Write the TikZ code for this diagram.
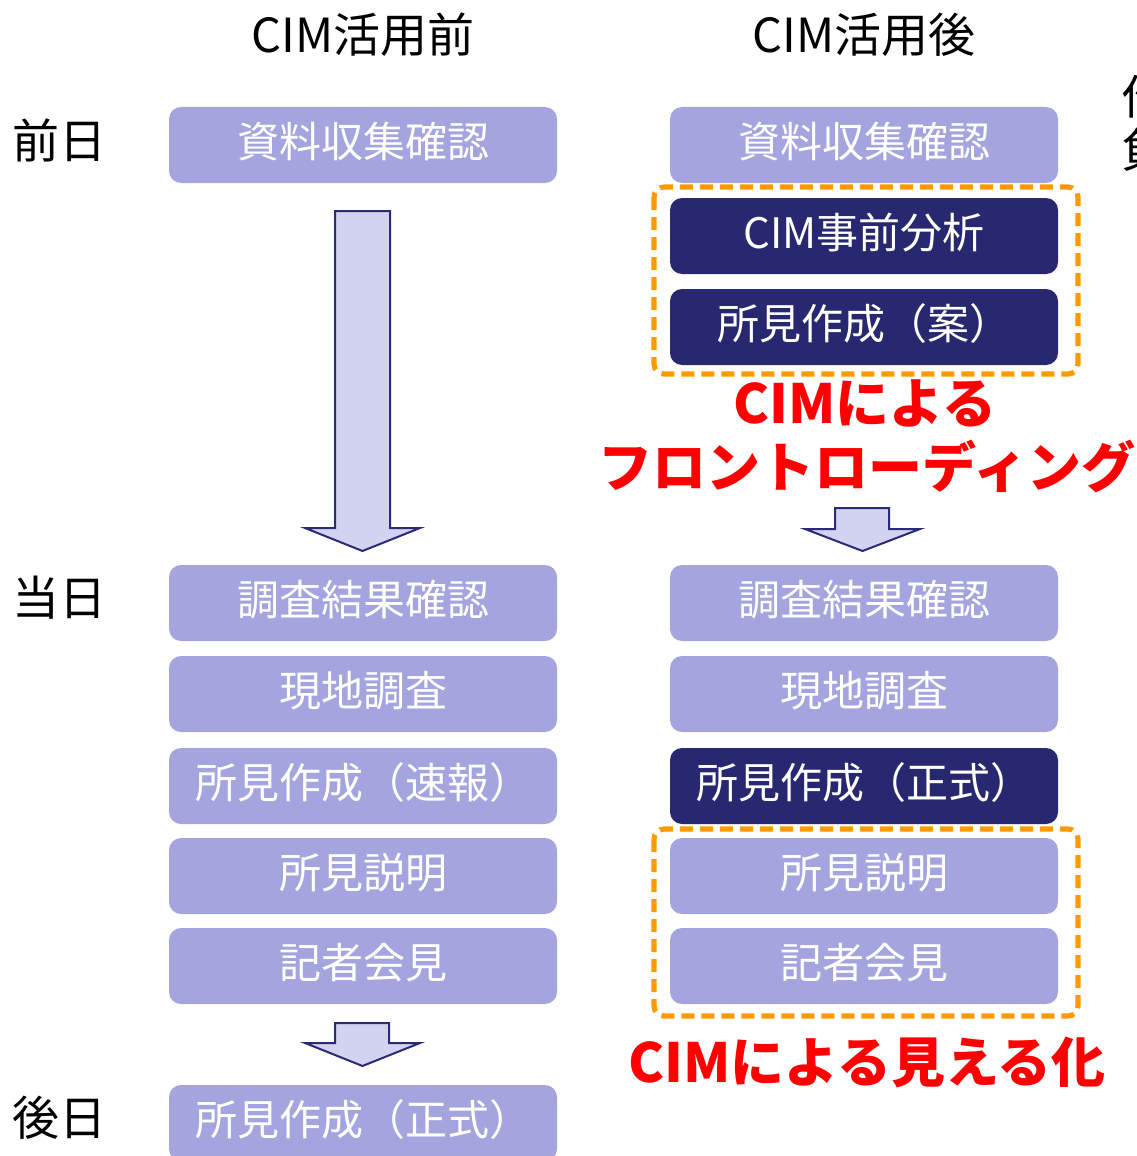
\documentclass[tikz,border=0pt]{standalone}
\usepackage{fontspec}
\setmainfont{Noto Sans CJK JP}
\usetikzlibrary{positioning}

\definecolor{boxlight}{HTML}{A4A4DF}
\definecolor{boxdark}{HTML}{282870}
\definecolor{arrowfill}{HTML}{D2D3F0}
\definecolor{arrowline}{HTML}{2A2A78}
\definecolor{frameorange}{HTML}{FF9900}
\definecolor{notered}{HTML}{FF0000}

\tikzset{
  stepbox/.style={rounded corners=6pt, minimum width=194pt, minimum height=38pt,
    inner sep=0pt, text height=18.5pt, text depth=6.5pt, text=white, font=\fontsize{21}{21}\selectfont},
  lightbox/.style={stepbox, fill=boxlight},
  darkbox/.style={stepbox, fill=boxdark},
  focusframe/.style={draw=frameorange, line width=2.6pt, dash pattern=on 6.5pt off 3.5pt, rounded corners=5pt},
  blockarrow/.style={draw=arrowline, fill=arrowfill, line width=1pt, line join=miter},
  redlabel/.style={text=notered, font=\fontsize{27}{27}\selectfont\bfseries},
  headlabel/.style={font=\fontsize{23.5}{23.5}\selectfont}
}

\begin{document}
\begin{tikzpicture}[x=0.5pt, y=-0.5pt]
                    \useasboundingbox (0,0) rectangle (1136,1156);
                    % headings
                    \node[headlabel] (before) at (363,35) {CIM活用前};
                    \node[headlabel] (after) at (864,35) {CIM活用後};
                    \node[headlabel, anchor=west] (cuta) at (1114,97) {作};
                    \node[headlabel, anchor=west] (cutb) at (1114,150) {負};
                    \node[headlabel, anchor=west] (dayprev) at (5,140) {前日};
                    \node[headlabel, anchor=west] (dayof) at (5,598) {当日};
                    \node[headlabel, anchor=west] (daynext) at (5,1118) {後日};
                    % before CIM
                    \node[lightbox] (bcollect) at (363,145) {資料収集確認};
                    \node[lightbox] (bresult) at (363,603) {調査結果確認};
                    \node[lightbox] (bsurvey) at (363,694) {現地調査};
                    \node[lightbox] (bquick) at (363,786) {所見作成（速報）};
                    \node[lightbox] (bexplain) at (363,876) {所見説明};
                    \node[lightbox] (bpress) at (363,966) {記者会見};
                    \node[lightbox] (bformal) at (363,1123) {所見作成（正式）};
                    % after CIM
                    \node[lightbox] (acollect) at (864,145) {資料収集確認};
                    \node[darkbox] (aanalyse) at (864,236) {CIM事前分析};
                    \node[darkbox] (adraft) at (864,327) {所見作成（案）};
                    \node[lightbox] (aresult) at (864,603) {調査結果確認};
                    \node[lightbox] (asurvey) at (864,694) {現地調査};
                    \node[darkbox] (aformal) at (864,786) {所見作成（正式）};
                    \node[lightbox] (aexplain) at (864,876) {所見説明};
                    \node[lightbox] (apress) at (864,966) {記者会見};
                    % dashed frames
                    \draw[focusframe] (654,187) rectangle (1078,374);
                    \draw[focusframe] (654,829) rectangle (1078,1016);
                    \node[redlabel] (frontload) at (865,403) {CIMによる};
                    \node[redlabel] (frontloadb) at (867,466) {フロントローディング};
                    \node[redlabel] (visual) at (867,1062) {CIMによる見える化};
                    % block arrows
                    \draw[blockarrow] (335,211) -- (390,211) -- (390,528) -- (420,528) -- (362.5,551) -- (305,528) -- (335,528) -- cycle;
                    \draw[blockarrow] (335,1023) -- (389,1023) -- (389,1043) -- (420,1043) -- (362.5,1066) -- (305,1043) -- (335,1043) -- cycle;
                    \draw[blockarrow] (835,508) -- (889,508) -- (889,529) -- (920,529) -- (862.5,551) -- (805,529) -- (835,529) -- cycle;
                \end{tikzpicture}
\end{document}
